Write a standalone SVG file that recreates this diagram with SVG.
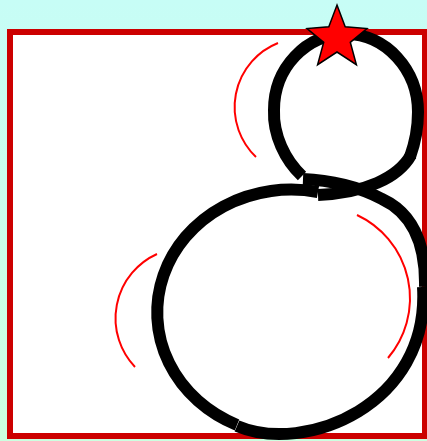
<svg xmlns="http://www.w3.org/2000/svg" width="427" height="441" viewBox="0 0 427 441">
  <defs>
    <linearGradient id="bg" x1="0" y1="0" x2="0" y2="1">
      <stop offset="0" stop-color="#c7fdf6"/>
      <stop offset="1" stop-color="#ccffe0"/>
    </linearGradient>
    <style>
      .loop { fill: none; stroke: #000; stroke-width: 12; stroke-linecap: butt; stroke-linejoin: round; }
      .hint { fill: none; stroke: #ff0000; stroke-width: 2; stroke-linecap: butt; }
    </style>
  </defs>
  <rect x="0" y="0" width="427" height="441" fill="url(#bg)"/>
  <g id="frame">
    <rect x="10" y="32" width="415" height="404" fill="#fff" stroke="#cc0000" stroke-width="6"/>
  </g>
  <g id="hints">
    <path class="hint" d="M 278,43 A 69 69 0 0 0 256,157"/>
    <path class="hint" d="M 157,254 A 70.6 70.6 0 0 0 135,367"/>
    <path class="hint" d="M 357,215 A 92 92 0 0 1 388,358"/>
  </g>
  <g id="figure-eight">
    <path class="loop" d="M 302,176 C 285,160 273,135 274,110 C 274,68 306,34 346,34 C 386,34 418,70 418,112 C 418,128 415,143 410,157"/>
    <path class="loop" d="M 411,155 C 398,178 365,193 318,195"/>
    <path class="loop" d="M 318,192 A 134 123 0 0 0 237,425"/>
    <path class="loop" d="M 237,426 C 305,455 430,405 423,287"/>
    <path class="loop" d="M 425,287 C 426,240 410,212 382,199 C 360,187 330,180 303,179"/>
  </g>
  <g id="star">
    <polygon points="337,5 345.2,26.7 367,28.5 350.3,42.3 356.4,64.7 337,52 317.6,64.7 323.7,42.3 307,28.5 328.8,26.7" fill="#ff0000" stroke="#000" stroke-width="1.5" stroke-linejoin="miter"/>
  </g>
</svg>
